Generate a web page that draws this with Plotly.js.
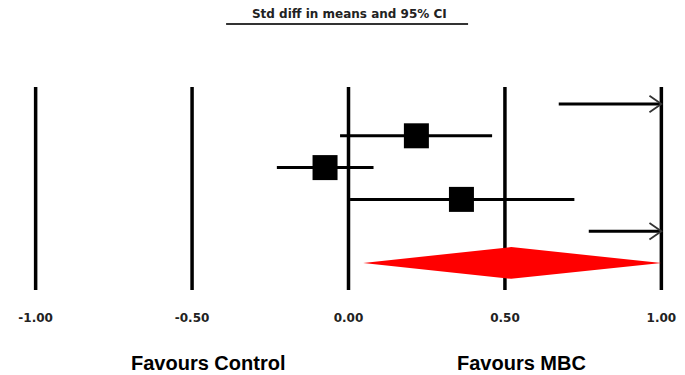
<!DOCTYPE html>
<html>
<head>
<meta charset="utf-8">
<script src="https://cdn.plot.ly/plotly-3.0.1.min.js"></script>
<style>html,body{margin:0;padding:0;background:#fff;}#chart{width:685px;height:375px;}</style>
</head>
<body>
<div id="chart"></div>
<script>
// ---- data (standardised difference in means, 95% CI) ----
// null = beyond the plotted limit of 1.00 (drawn as an arrow at the limit)
const studyPoint = [null, 0.217, -0.075, 0.361, null];
const studyLower = [0.672, -0.027, -0.229, 0.005, 0.768];
const studyUpper = [null, 0.459, 0.080, 0.722, null];
const summaryPoint = 0.52;
const summaryLower = 0.047;
const summaryUpper = 1.00;
const tickValues = [-1, -0.5, 0, 0.5, 1];
const tickLabels = ['-1.00', '-0.50', '0.00', '0.50', '1.00'];
const chartTitle = 'Std diff in means and 95% CI';
const leftLabel = 'Favours Control';
const rightLabel = 'Favours MBC';

const xMin = tickValues[0], xMax = tickValues[tickValues.length - 1];
const traces = [];
const n = studyLower.length;
const rowY = studyLower.map((_, i) => i + 1);
const summaryY = n + 1;

// CI lines
for (let i = 0; i < n; i++) {
  const hi = studyUpper[i] === null ? xMax : Math.min(studyUpper[i], xMax);
  traces.push({x: [studyLower[i], hi], y: [rowY[i], rowY[i]], mode: 'lines',
    line: {color: '#000', width: 3}, cliponaxis: false, hoverinfo: 'skip', showlegend: false});
  if (studyUpper[i] === null) {
    // open chevron arrow at the plot limit
    traces.push({x: [xMax - 0.038, xMax, xMax - 0.038], y: [rowY[i] - 0.26, rowY[i], rowY[i] + 0.26],
      mode: 'lines', line: {color: '#333', width: 1.8}, cliponaxis: false, hoverinfo: 'skip', showlegend: false});
  }
}
// point estimates
traces.push({x: studyPoint, y: rowY, mode: 'markers',
  marker: {symbol: 'square', size: 25, color: '#000'}, cliponaxis: false, showlegend: false});
// summary diamond
traces.push({x: [summaryLower, summaryPoint, summaryUpper, summaryPoint, summaryLower],
  y: [summaryY, summaryY - 0.5, summaryY, summaryY + 0.5, summaryY],
  mode: 'lines', fill: 'toself', fillcolor: '#ff0000', line: {width: 0, color: '#ff0000'},
  cliponaxis: false, hoverinfo: 'skip', showlegend: false});

const shapes = tickValues.map(v => ({type: 'line', xref: 'x', yref: 'paper', x0: v, x1: v, y0: 0, y1: 1,
  line: {color: '#000', width: 3.5}, layer: 'below'}));
// title underline
shapes.push({type: 'line', xref: 'paper', yref: 'paper', x0: 0.3137, x1: 0.682, y0: 1.31, y1: 1.31,
  line: {color: '#333', width: 2}});

const layout = {
  width: 685, height: 375,
  margin: {l: 20, r: 8, t: 87, b: 85, pad: 0},
  paper_bgcolor: '#fff', plot_bgcolor: '#fff',
  title: {text: '<b>' + chartTitle + '</b>', x: 0.51, xref: 'container', xanchor: 'center',
    y: 0.963, yref: 'container', yanchor: 'middle',
    font: {family: 'DejaVu Sans', size: 12, color: '#222'}},
  xaxis: {range: [xMin - 0.05, xMax + 0.05], tickvals: tickValues, ticktext: tickLabels,
    showgrid: false, zeroline: false, showline: false, ticks: 'outside', ticklen: 17,
    tickcolor: 'rgba(0,0,0,0)', tickfont: {family: 'DejaVu Sans', size: 12, color: '#222', weight: 'bold'},
    fixedrange: true},
  yaxis: {range: [6.85, 0.465], visible: false, showgrid: false, zeroline: false, fixedrange: true},
  shapes: shapes,
  annotations: [
    {text: '<b>' + leftLabel + '</b>', xref: 'x', yref: 'paper', x: -0.449, y: -0.36,
      xanchor: 'center', yanchor: 'middle', showarrow: false,
      font: {family: 'Liberation Sans', size: 20, color: '#000'}},
    {text: '<b>' + rightLabel + '</b>', xref: 'x', yref: 'paper', x: 0.554, y: -0.36,
      xanchor: 'center', yanchor: 'middle', showarrow: false,
      font: {family: 'Liberation Sans', size: 20, color: '#000'}}
  ],
  showlegend: false
};
Plotly.newPlot('chart', traces, layout, {displayModeBar: false, staticPlot: true});
</script>
</body>
</html>
